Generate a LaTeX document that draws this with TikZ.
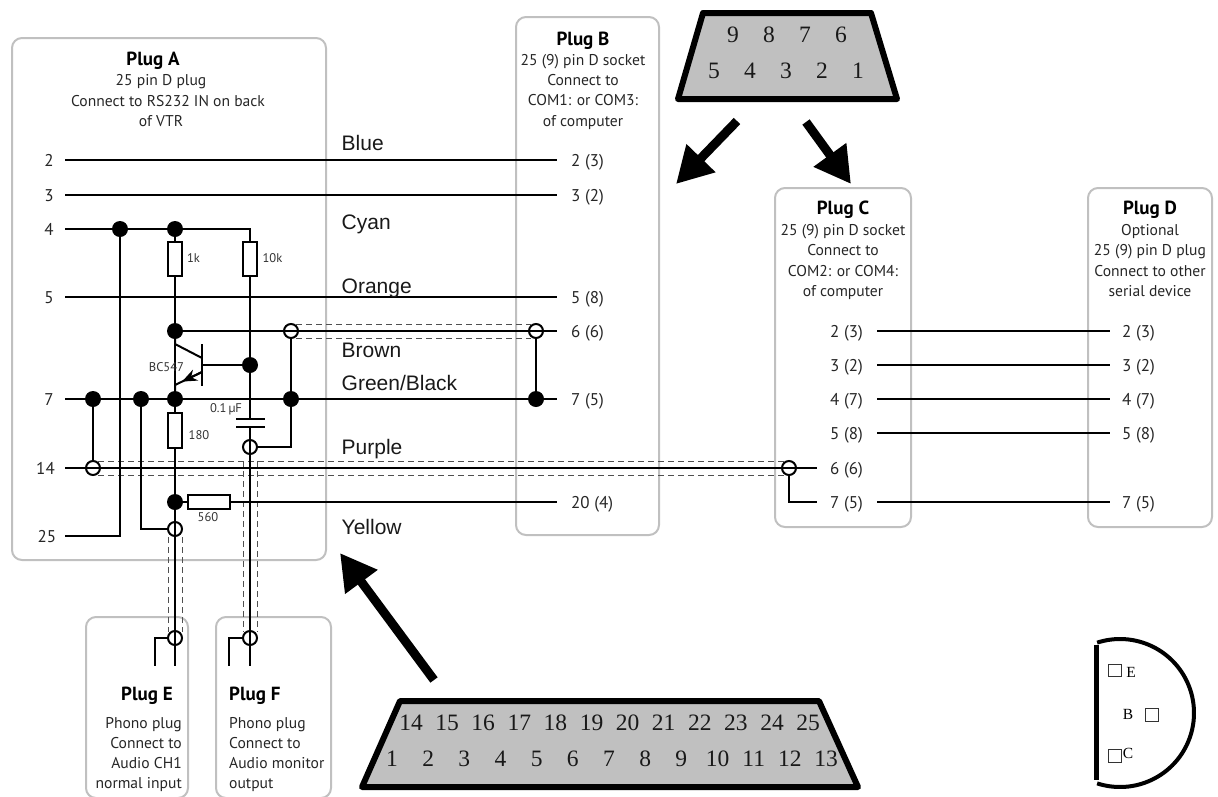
\documentclass[tikz,border=0pt]{standalone}
\usepackage{fontspec}
\setmainfont{PT Sans}
\newfontfamily\pinfont{Liberation Serif}
\newfontfamily\wirefont{Liberation Sans}
\usetikzlibrary{arrows.meta,calc}
\definecolor{boxgrey}{HTML}{C0C0C0}
\definecolor{shield}{HTML}{505050}
\tikzset{
 plugbox/.style={draw=boxgrey,line width=2pt,rounded corners=10pt},
 wire/.style={draw=black,line width=2pt,line cap=butt},
 shieldline/.style={draw=shield,line width=1pt,dash pattern=on 6pt off 4pt},
 dotj/.style={circle,fill=black,inner sep=0pt,minimum size=16pt},
 openj/.style={circle,draw=black,line width=2pt,inner sep=0pt,minimum size=14pt},
 res/.style={draw=black,fill=white,line width=2pt,inner sep=0pt},
 title/.style={font=\fontsize{19}{19}\selectfont\bfseries,inner sep=0pt,anchor=base},
 body/.style={font=\fontsize{15.6}{16}\selectfont,inner sep=0pt,text=black!85,anchor=base},
 pinlab/.style={font=\fontsize{17}{17}\selectfont,inner sep=0pt,text=black!85,anchor=base},
 pinr/.style={pinlab,anchor=base west},
 small/.style={font=\fontsize{12.6}{13}\selectfont,inner sep=0pt,text=black!80},
 colorlab/.style={font=\wirefont\fontsize{21}{21}\selectfont,inner sep=0pt,text=black!90,anchor=base west},
 conn/.style={draw=black,fill=boxgrey,line width=6pt,line join=round},
 pinnum/.style={font=\pinfont\fontsize{23.5}{24}\selectfont,inner sep=0pt,text=black!90},
 bigarrow/.style={draw=black,line width=9pt,-{Triangle[length=36pt,width=38pt]}},
 sq/.style={draw=black!80,line width=1pt,minimum size=12.5pt,inner sep=0pt},
 eblabel/.style={font=\pinfont\fontsize{15.5}{16}\selectfont,inner sep=0pt},
}
\begin{document}
\begin{tikzpicture}[x=1pt,y=-1pt]
\useasboundingbox (0,0) rectangle (1218,796);
% plug boxes
\draw[plugbox] (12,38) rectangle (326,560);
\draw[plugbox] (516,17) rectangle (659,535);
\draw[plugbox] (775,188) rectangle (911,527);
\draw[plugbox] (1088,188) rectangle (1212,527);
\draw[plugbox] (86,617) rectangle (188,798);
\draw[plugbox] (216,617) rectangle (331,798);
% free wire ends
\foreach \n/\y in {p2/160,p3/195,p4/229,p5/297,p7/399,p14/468,p25/536}{\coordinate (\n) at (65,\y);}
\foreach \n/\y in {b2/160,b3/195,b5/297,b6/331,b7/399,b20/502}{\coordinate (\n) at (557,\y);}
\foreach \n/\y in {cr2/331,cr3/365,cr4/399,cr5/433,cr7/502}{\coordinate (\n) at (877,\y);}
\foreach \n/\y in {d2/331,d3/365,d4/399,d5/433,d7/502}{\coordinate (\n) at (1110,\y);}
\coordinate (c6) at (817,468);
\coordinate (c7) at (817,502);
\coordinate (corner25) at (120,536);
\coordinate (corner10k) at (250,229);
\coordinate (cornercap) at (291,447);
\coordinate (cornerc) at (789,502);
\coordinate (qb) at (202,365);
\coordinate (qct) at (202,344);
\coordinate (qbb) at (202,386);
\coordinate (qcin) at (202,358);
\coordinate (qein) at (202,372);
\coordinate (qtip) at (182,381.6);
\coordinate (qcout) at (175,344);
\coordinate (qeout) at (175,385);
\coordinate (ct) at (250,419);
\coordinate (cb) at (250,427);
\coordinate (ctl) at (236,419);\coordinate (ctr) at (265,419);
\coordinate (cbl) at (236,427);\coordinate (cbr) at (265,427);
\coordinate (eEnd) at (175,666);
\coordinate (eStubC) at (155,638);
\coordinate (eStubE) at (155,666);
\coordinate (fEnd) at (250,666);
\coordinate (fStubC) at (229,638);
\coordinate (fStubE) at (229,666);
% junctions
\node[dotj] (j4a) at (120,229) {};
\node[dotj] (j4b) at (175,229) {};
\node[dotj] (jc) at (175,331) {};
\node[dotj] (jb) at (250,365) {};
\node[dotj] (j7a) at (93,399) {};
\node[dotj] (j7b) at (141,399) {};
\node[dotj] (j7c) at (175,399) {};
\node[dotj] (j7d) at (291,399) {};
\node[dotj] (j20) at (175,502) {};
\node[dotj] (jb7) at (536,399) {};
\node[openj] (o6a) at (291,331) {};
\node[openj] (o6b) at (536,331) {};
\node[openj] (ocap) at (250,447) {};
\node[openj] (o14) at (93,468) {};
\node[openj] (oc6) at (789,468) {};
\node[openj] (oe) at (175,529) {};
\node[openj] (pe) at (175,638) {};
\node[openj] (pf) at (250,638) {};
% shields
\draw[shieldline] ($(o6a)+(5,-7)$) -- ($(o6b)+(-5,-7)$);
\draw[shieldline] ($(o6a)+(5,7)$) -- ($(o6b)+(-5,7)$);
\draw[shieldline] ($(o14)+(5,-7)$) -- ($(oc6)+(-5,-7)$);
\draw[shieldline] ($(o14)+(5,7)$) -- ($(oc6)+(-5,7)$);
\draw[shieldline] ($(oe)+(-7,8)$) -- ($(pe)+(-7,-6)$);
\draw[shieldline] ($(oe)+(7,8)$) -- ($(pe)+(7,-6)$);
\draw[shieldline] ($(ocap)+(-7,14)$) -- ($(pf)+(-7,-6)$);
\draw[shieldline] ($(ocap)+(7,14)$) -- ($(pf)+(7,-6)$);
% wires
\draw[wire] (p2) -- (b2);
\draw[wire] (p3) -- (b3);
\draw[wire] (p4) -- (j4a) -- (j4b) -- (corner10k) -- (ct);
\draw[wire] (p5) -- (b5);
\draw[wire] (jc) -- (b6);
\draw[wire] (p7) -- (b7);
\draw[wire] (p14) -- (c6);
\draw[wire] (j20) -- (b20);
\draw[wire] (j4a) -- (corner25) -- (p25);
\draw[wire] (j4b) -- (eEnd);
\draw[wire] (j7a) -- (o14);
\draw[wire] (j7b) |- (oe);
\draw[wire] (cb) -- (fEnd);
\draw[wire] (o6a) -- (j7d) -- (cornercap) -- (ocap);
\draw[wire] (o6b) -- (jb7);
\draw[wire] (oc6) -- (cornerc) -- (c7);
\draw[wire] (jb) -- (qb);
\draw[wire] (jc) -- (qcout) -- (qcin);
\draw[wire] (qein) -- (qeout) -- (j7c);
\draw[wire,-{Stealth[length=15pt,width=12pt]}] (qein) -- (qtip);
\draw[wire] (qct) -- (qbb);
\draw[wire] (ctl) -- (ctr);
\draw[wire] (cbl) -- (cbr);
\draw[wire] (pe) -- (eStubC) -- (eStubE);
\draw[wire] (pf) -- (fStubC) -- (fStubE);
\foreach \n in {2,3,4,5,7}{\draw[wire] (cr\n) -- (d\n);}
% resistors
\node[res,minimum width=14pt,minimum height=34pt] (r1k) at (175,259) {};
\node[res,minimum width=14pt,minimum height=34pt] (r10k) at (250,259) {};
\node[res,minimum width=14pt,minimum height=35pt] (r180) at (175,430) {};
\node[res,minimum width=42pt,minimum height=14pt] (r560) at (209,502) {};
% component labels
\node[small] (l1k) at (193.5,258) {1k};
\node[small] (l10k) at (272.5,258) {10k};
\node[small] (l180) at (199,435) {180};
\node[small] (l560) at (208,517) {560};
\node[small] (lcap) at (226,409) {0.1\,µF};
\node[small] (lq) at (166.5,367.5) {BC547};
% titles and descriptions
\node[title] (ta) at (153,65) {Plug A};
\node[body] (a1) at (161,85) {25 pin D plug};
\node[body] (a2) at (168,106) {Connect to RS232 IN on back};
\node[body] (a3) at (161,126) {of VTR};
\node[title] (tb) at (583,45) {Plug B};
\foreach \t [count=\i] in {25 (9) pin D socket,Connect to,COM1: or COM3:,of computer}{\node[body] (b\i l) at (583,{44.6+20.4*\i}) {\t};}
\node[title] (tc) at (843,214) {Plug C};
\foreach \t [count=\i] in {25 (9) pin D socket,Connect to,COM2: or COM4:,of computer}{\node[body] (c\i l) at (843,{214.5+20.5*\i}) {\t};}
\node[title] (td) at (1150,214) {Plug D};
\foreach \t [count=\i] in {Optional,25 (9) pin D plug,Connect to other,serial device}{\node[body] (d\i l) at (1150,{214.5+20.5*\i}) {\t};}
\node[title] (te) at (147,700) {Plug E};
\foreach \t [count=\i] in {Phono plug,Connect to,Audio CH1,normal input}{\node[body,anchor=base east] (e\i l) at (182,{708+20*\i}) {\t};}
\node[title,anchor=base west] (tf) at (229,700) {Plug F};
\foreach \t [count=\i] in {Phono plug,Connect to,Audio monitor,output}{\node[body,anchor=base west] (f\i l) at (229,{708+20*\i}) {\t};}
% pin labels
\foreach \t/\x/\y in {2/49/160,3/49/195,4/49/229,5/49/297,7/49/399,14/45.5/468,25/47/536}{\node[pinlab] at (\x,\y+6.5) {\t};}
\foreach \t/\y in {2 (3)/160,3 (2)/195,5 (8)/297,6 (6)/331,7 (5)/399,20 (4)/502}{\node[pinr] at (571,\y+6.5) {\t};}
\foreach \t/\y in {2 (3)/331,3 (2)/365,4 (7)/399,5 (8)/433,6 (6)/468,7 (5)/502}{\node[pinr] at (830,\y+6.5) {\t};}
\foreach \t/\y in {2 (3)/331,3 (2)/365,4 (7)/399,5 (8)/433,7 (5)/502}{\node[pinr] at (1122,\y+6.5) {\t};}
% wire colours
\node[colorlab] (cBlue) at (341.5,150) {Blue};
\node[colorlab] (cCyan) at (341.5,229) {Cyan};
\node[colorlab] (cOrange) at (341.5,293) {Orange};
\node[colorlab] (cBrown) at (341.5,357) {Brown};
\node[colorlab] (cGB) at (341.5,390) {Green/Black};
\node[colorlab] (cPurple) at (341.5,454) {Purple};
\node[colorlab] (cYellow) at (341.5,534) {Yellow};
% connectors
\draw[conn] (703,13) -- (871,13) -- (897,99) -- (678,99) -- cycle;
\foreach \t/\x in {9/733,8/769,7/805,6/841}{\node[pinnum] at (\x,35) {\t};}
\foreach \t/\x in {5/714,4/750,3/786,2/822,1/858}{\node[pinnum] at (\x,71) {\t};}
\draw[conn] (400,701) -- (819,701) -- (858,787) -- (362,787) -- cycle;
\foreach \t [count=\i from 0] in {14,15,...,25}{\node[pinnum] at ({411+36.1*\i},723) {\t};}
\foreach \t [count=\i from 0] in {1,2,...,13}{\node[pinnum] at ({392+36.17*\i},759) {\t};}
% arrows
\coordinate (a1s) at (737,121); \coordinate (a1e) at (676,184);
\coordinate (a2s) at (806,122); \coordinate (a2e) at (851,184);
\coordinate (a3s) at (434,680); \coordinate (a3e) at (340,553);
\draw[bigarrow] (a1s) -- (a1e);
\draw[bigarrow] (a2s) -- (a2e);
\draw[bigarrow] (a3s) -- (a3e);
% transistor outline
\draw[black,line width=5pt] (1096,645) -- (1096,780);
\draw[black,line width=4pt] plot[domain=-108:108,samples=80] ({1120+74*cos(\x)},{713+74*sin(\x)});
\node[sq] (sE) at (1115,670.5) {};
\node[sq] (sB) at (1152,715) {};
\node[sq] (sC) at (1115,756) {};
\node[eblabel] (lE) at (1131,672) {E};
\node[eblabel] (lB) at (1128,714) {B};
\node[eblabel] (lC) at (1128,753) {C};
\end{tikzpicture}
\end{document}
